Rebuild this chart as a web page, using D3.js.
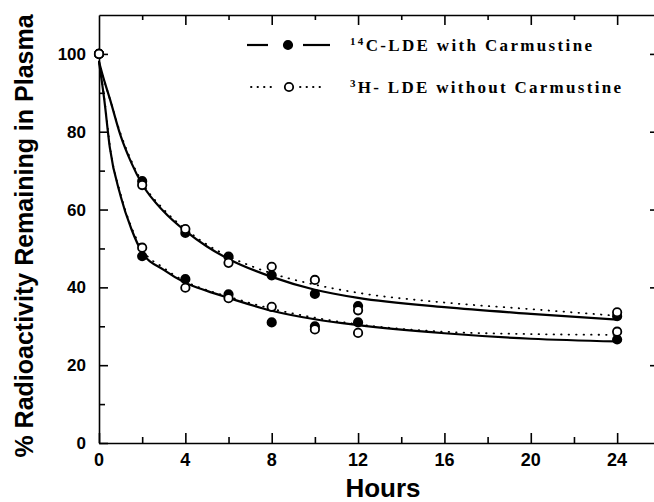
<!DOCTYPE html>
<html>
<head>
<meta charset="utf-8">
<script src="https://cdn.jsdelivr.net/npm/d3@7"></script>
<style>
  body { margin: 0; background: #fff; }
  svg { display: block; }
  .axis path, .axis line { stroke: #000; stroke-width: 1.6; }
  .tickLabel { font-family: "Liberation Sans", Arial, sans-serif; font-weight: bold; fill: #000; }
  .legendText { font-family: "Liberation Serif", "Times New Roman", serif; font-weight: bold; font-size: 17px; fill: #000; }
</style>
</head>
<body>
<div id="chart"></div>
<script>
var width = 654, height = 502;
var margin = {top: 15, right: -2, bottom: 59, left: 99};

// sampling times (hours)
var hours = [0, 2, 4, 6, 8, 10, 12, 24];

var withCarmSlow    = [100, 67.3, 54.0, 47.9, 43.1, 38.3, 35.2, 32.6];
var withoutCarmSlow = [100, 66.3, 55.0, 46.3, 45.3, 41.9, 34.1, 33.6];
var withCarmFast    = [100, 48.0, 42.1, 38.2, 31.0, 30.0, 31.0, 26.6];
var withoutCarmFast = [100, 50.2, 39.9, 37.2, 35.0, 29.2, 28.3, 28.6];

// fitted curves at these times
var fitHours        = [0, 0.25, 0.5, 1, 1.5, 2, 3, 4, 5, 6, 8, 10, 12, 16, 20, 24];
var fitWithSlow     = [98, 93, 88.5, 79, 72, 66.5, 59.5, 54.5, 50.5, 47.3, 42.7, 39.4, 37.3, 34.9, 33.2, 31.7];
var fitWithoutSlow  = [98, 93, 88.5, 79.5, 72.5, 67, 60, 55, 51, 48, 43.6, 40.7, 38.6, 36.1, 34.4, 32.7];
var fitWithFast     = [98, 88, 76, 63.5, 55, 49, 44.5, 41.2, 39.1, 37.3, 34.0, 31.8, 30.3, 28.2, 26.8, 26.1];
var fitWithoutFast  = [98, 88.5, 76.5, 64, 55.5, 49.8, 45, 41.5, 39.3, 37.6, 34.5, 32.2, 30.5, 28.6, 28.0, 27.8];

var xTicks = [0, 4, 8, 12, 16, 20, 24];
var yTicks = [0, 20, 40, 60, 80, 100];

var svg = d3.select("#chart").append("svg")
    .attr("width", width)
    .attr("height", height);

var x = d3.scaleLinear()
    .domain([0, 25.8])
    .range([margin.left, width - margin.right]);

var y = d3.scaleLinear()
    .domain([0, 110])
    .range([height - margin.bottom, margin.top]);

var xMinor = d3.range(2, 26, 4);
var yMinor = d3.range(10, 110, 20);

// bottom axis, ticks pointing in
svg.append("g")
    .attr("class", "axis")
    .attr("transform", `translate(0, ${y(0)})`)
    .call(d3.axisBottom(x).tickValues(xTicks).tickSize(-10).tickSizeOuter(0).tickFormat(""));
svg.append("g")
    .attr("class", "axis")
    .attr("transform", `translate(0, ${y(0)})`)
    .call(d3.axisBottom(x).tickValues(xMinor).tickSize(-6).tickSizeOuter(0).tickFormat(""))
    .select(".domain").remove();

// top border
svg.append("g")
    .attr("class", "axis")
    .attr("transform", `translate(0, ${y(110)})`)
    .call(d3.axisTop(x).tickValues(xTicks.slice(1)).tickSize(-10).tickSizeOuter(0).tickFormat(""));
svg.append("g")
    .attr("class", "axis")
    .attr("transform", `translate(0, ${y(110)})`)
    .call(d3.axisTop(x).tickValues(xMinor).tickSize(-5).tickSizeOuter(0).tickFormat(""))
    .select(".domain").remove();

// left axis
svg.append("g")
    .attr("class", "axis")
    .attr("transform", `translate(${x(0)}, 0)`)
    .call(d3.axisLeft(y).tickValues(yTicks).tickSize(-9).tickSizeOuter(0).tickFormat(""));
svg.append("g")
    .attr("class", "axis")
    .attr("transform", `translate(${x(0)}, 0)`)
    .call(d3.axisLeft(y).tickValues(yMinor).tickSize(-6).tickSizeOuter(0).tickFormat(""))
    .select(".domain").remove();

// right side, only the tick stubs show
svg.append("g")
    .attr("class", "axis")
    .attr("transform", `translate(${x(25.8)}, 0)`)
    .call(d3.axisRight(y).tickValues(yTicks.slice(1)).tickSize(-6).tickSizeOuter(0).tickFormat(""));

svg.selectAll("text.yLabel")
    .data(yTicks)
    .enter()
    .append("text")
    .attr("class", "tickLabel yLabel")
    .attr("x", 86)
    .attr("y", d => y(d))
    .attr("dy", "0.36em")
    .style("font-size", "17px")
    .style("text-anchor", "end")
    .text(d => d);

svg.selectAll("text.xLabel")
    .data(xTicks)
    .enter()
    .append("text")
    .attr("class", "tickLabel xLabel")
    .attr("x", d => x(d))
    .attr("y", 466)
    .style("font-size", "18px")
    .style("text-anchor", "middle")
    .text(d => d);

svg.append("text")
    .attr("class", "tickLabel")
    .attr("x", 383)
    .attr("y", 497)
    .style("font-size", "26px")
    .style("text-anchor", "middle")
    .text("Hours");

svg.append("text")
    .attr("class", "tickLabel")
    .attr("transform", "translate(33, 236) rotate(-90)")
    .style("font-size", "25px")
    .style("text-anchor", "middle")
    .text("% Radioactivity Remaining in Plasma");

// curves
var line = d3.line()
    .x((d, i) => x(fitHours[i]))
    .y(d => y(d))
    .curve(d3.curveMonotoneX);

[fitWithoutSlow, fitWithoutFast].forEach(function(s) {
    svg.append("path")
        .datum(s)
        .attr("d", line)
        .attr("fill", "none")
        .attr("stroke", "#000")
        .attr("stroke-width", 1.8)
        .attr("stroke-linecap", "round")
        .attr("stroke-dasharray", "0.5,7");
});

[fitWithSlow, fitWithFast].forEach(function(s) {
    svg.append("path")
        .datum(s)
        .attr("d", line)
        .attr("fill", "none")
        .attr("stroke", "#000")
        .attr("stroke-width", 2.2);
});

// points
function drawPoints(vals, filled) {
    svg.append("g")
        .selectAll("circle")
        .data(vals)
        .enter()
        .append("circle")
        .attr("cx", (d, i) => x(hours[i]))
        .attr("cy", d => y(d))
        .attr("r", 4.2)
        .attr("fill", filled ? "#000" : "#fff")
        .attr("stroke", "#000")
        .attr("stroke-width", 1.8);
}
drawPoints(withCarmSlow, true);
drawPoints(withCarmFast, true);
drawPoints(withoutCarmSlow, false);
drawPoints(withoutCarmFast, false);

// legend
var legend = svg.append("g");
legend.append("line")
    .attr("x1", 247).attr("x2", 268).attr("y1", 45).attr("y2", 45)
    .attr("stroke", "#000").attr("stroke-width", 2.2);
legend.append("line")
    .attr("x1", 303).attr("x2", 330).attr("y1", 45).attr("y2", 45)
    .attr("stroke", "#000").attr("stroke-width", 2.2);
legend.append("circle")
    .attr("cx", 288).attr("cy", 45).attr("r", 4.2)
    .attr("fill", "#000").attr("stroke", "#000").attr("stroke-width", 1.8);

legend.append("line")
    .attr("x1", 251).attr("x2", 276).attr("y1", 87).attr("y2", 87)
    .attr("stroke", "#000").attr("stroke-width", 1.8)
    .attr("stroke-linecap", "round").attr("stroke-dasharray", "0.5,6");
legend.append("line")
    .attr("x1", 300).attr("x2", 325).attr("y1", 87).attr("y2", 87)
    .attr("stroke", "#000").attr("stroke-width", 1.8)
    .attr("stroke-linecap", "round").attr("stroke-dasharray", "0.5,6");
legend.append("circle")
    .attr("cx", 289).attr("cy", 87).attr("r", 4.2)
    .attr("fill", "#fff").attr("stroke", "#000").attr("stroke-width", 1.8);

var t1 = legend.append("text")
    .attr("class", "legendText")
    .attr("x", 350).attr("y", 51)
    .attr("textLength", 242);
t1.append("tspan").attr("font-size", "11px").attr("dy", "-6").text("14");
t1.append("tspan").attr("dy", "6").text("C-LDE with Carmustine");

var t2 = legend.append("text")
    .attr("class", "legendText")
    .attr("x", 350).attr("y", 93)
    .attr("textLength", 271);
t2.append("tspan").attr("font-size", "11px").attr("dy", "-6").text("3");
t2.append("tspan").attr("dy", "6").text("H- LDE without Carmustine");
</script>
</body>
</html>
